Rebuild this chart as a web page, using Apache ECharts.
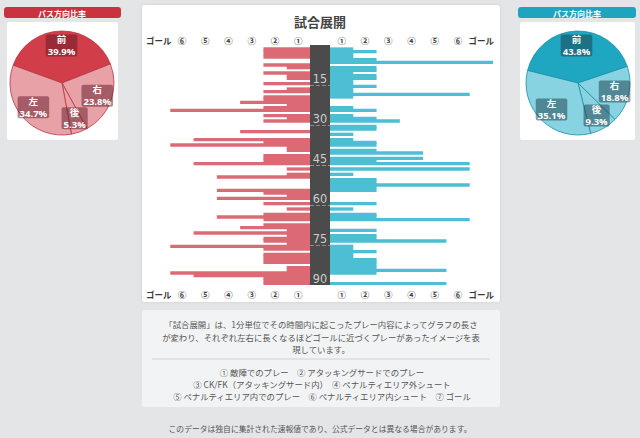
<!DOCTYPE html>
<html><head><meta charset="utf-8">
<script src="https://cdn.jsdelivr.net/npm/echarts@6/dist/echarts.min.js"></script>
<style>html,body{margin:0;padding:0;width:640px;height:438px;overflow:hidden;background:#e3e5e7}#c{width:640px;height:438px}</style>
</head><body><div id="c"></div><script>
// ---- data ----
const minutes = ['1','2','3','4','5','6','7','8','9','10','11','12','13','14','15','16','17','18','19','20','21','22','23','24','25','26','27','28','29','30','31','32','33','34','35','36','37','38','39','40','41','42','43','44','45','46','47','48','49','50','51','52','53','54','55','56','57','58','59','60','61','62','63','64','65','66','67','68','69','70','71','72','73','74','75','76','77','78','79','80','81','82','83','84','85','86','87','88','89','90'];
const homeLevels = [
  0,2,2,2,2,0,0,2,1,0,
  2,1,1,0,2,0,1,2,0,2,
  2,3,1,2,6,0,2,1,2,0,
  0,0,3,0,0,5,2,6,1,1,
  0,2,2,2,5,0,1,0,1,4,
  0,0,0,0,4,2,1,4,0,2,
  0,1,0,2,4,2,0,2,3,1,
  5,1,2,2,1,6,2,0,2,2,
  2,2,0,1,1,6,5,2,2,2];
const awayLevels = [
  0,1,2,1,1,2,7,0,2,2,
  1,2,2,1,1,2,1,1,6,1,
  0,0,0,1,2,0,1,2,3,0,
  2,2,0,1,0,1,2,2,0,2,
  4,0,4,2,6,0,6,0,1,0,
  2,2,6,2,2,0,0,0,0,2,
  0,1,0,2,2,6,0,0,0,2,
  0,2,2,5,0,1,1,2,1,1,
  2,2,2,2,5,2,0,0,0,5];
const levelLabels = ['①','②','③','④','⑤','⑥','ゴール'];
const minuteTicks = [15,30,45,60,75,90];
const passNames = ['前','右','後','左'];
const homePass = [39.9, 23.8, 5.3, 34.7];
const awayPass = [43.8, 18.8, 9.3, 35.1];
const descLines = [
  '「試合展開」は、1分単位でその時間内に起こったプレー内容によってグラフの長さ',
  'が変わり、それぞれ左右に長くなるほどゴールに近づくプレーがあったイメージを表',
  '現しています。'
];
const legendLines = [
  '① 敵陣でのプレー　② アタッキングサードでのプレー',
  '③ CK/FK（アタッキングサード内）　④ ペナルティエリア外シュート',
  '⑤ ペナルティエリア内でのプレー　⑥ ペナルティエリア内シュート　⑦ ゴール'
];
const footText = 'このデータは独自に集計された速報値であり、公式データとは異なる場合があります。';
const titleText = '試合展開';
const pieTitle = 'パス方向比率';

// ---- chart ----
const JP = '"Noto Sans CJK JP", "Noto Sans", sans-serif';
const red = '#dc6a74', blue = '#4dbfd5';
const chart = echarts.init(document.getElementById('c'), null, {renderer:'svg', width:640, height:438});

function catAxis(grid, pos, inv){
  return {gridIndex:grid, type:'category', data:levelLabels, inverse:inv, position:pos,
    axisLine:{show:false}, axisTick:{show:false}, splitLine:{show:false},
    axisLabel:{interval:0, color:'#3a3a3a', fontSize:8.5, fontFamily:JP, fontWeight:'bold', margin: pos==='top'?1:5}};
}
function pieSeries(center, values, startAngle, mainColor, lightColor, borderColor, labelBg){
  const data = passNames.map((n,i)=>({name:n, value:values[i], itemStyle:{color: i===0?mainColor:lightColor}}));
  return [
    {type:'pie', center:center, radius:52, startAngle:startAngle, clockwise:true, silent:true,
     label:{show:false}, labelLine:{show:false},
     itemStyle:{borderColor:borderColor, borderWidth:0.8}, data:data},
    {type:'pie', center:center, radius:[17,52], startAngle:startAngle, clockwise:true, silent:true,
     itemStyle:{color:'rgba(0,0,0,0)', borderWidth:0},
     label:{show:true, position:'inside', formatter:p=>p.name+'\n'+p.value.toFixed(1)+'%',
       color:'#fff', fontSize:9.5, lineHeight:12, fontWeight:'bold', fontFamily:'"Open Sans", "Noto Sans CJK JP", sans-serif',
       backgroundColor:labelBg, borderRadius:2, padding:[-1,2,-1,2]},
     labelLine:{show:false},
     data:passNames.map((n,i)=>({name:n, value:values[i]}))}
  ];
}

const option = {
  backgroundColor:'#e3e5e7',
  animation:false,
  graphic:{elements:[
    {type:'rect', z:-10, shape:{x:142,y:5,width:358,height:297,r:3}, style:{fill:'#fff', shadowBlur:3, shadowColor:'rgba(0,0,0,0.12)'}},
    {type:'rect', z:-10, shape:{x:142,y:310,width:358,height:97,r:3}, style:{fill:'rgba(255,255,255,0.55)'}},
    {type:'line', z:-9, shape:{x1:152,y1:359,x2:490,y2:359}, style:{stroke:'#d0d2d4', lineWidth:1}},
    {type:'rect', z:-10, shape:{x:4,y:7,width:117,height:11,r:3}, style:{fill:'#c9323f'}},
    {type:'rect', z:-10, shape:{x:7,y:22,width:111,height:118,r:2}, style:{fill:'#fff'}},
    {type:'rect', z:-10, shape:{x:518,y:7,width:118,height:11,r:3}, style:{fill:'#1fa4bf'}},
    {type:'rect', z:-10, shape:{x:520,y:22,width:115,height:118,r:2}, style:{fill:'#fff'}},
    {type:'text', style:{text:pieTitle, x:62, y:13, fill:'#fff', font:'bold 8px '+JP, textAlign:'center', textVerticalAlign:'middle'}},
    {type:'text', style:{text:pieTitle, x:577, y:13, fill:'#fff', font:'bold 8px '+JP, textAlign:'center', textVerticalAlign:'middle'}},
    {type:'text', style:{text:titleText, x:320, y:21, fill:'#444', font:'bold 13px '+JP, textAlign:'center', textVerticalAlign:'middle'}},
    ...descLines.map((t,i)=>({type:'text', style:{text:t, x:321, y:324+i*12.5, fill:'#555', font:'8.4px '+JP, textAlign:'center', textVerticalAlign:'middle'}})),
    ...legendLines.map((t,i)=>({type:'text', style:{text:t, x:322, y:372+i*12.2, fill:'#555', font:'8.4px '+JP, textAlign:'center', textVerticalAlign:'middle'}})),
    {type:'text', style:{text:footText, x:320, y:428, fill:'#555', font:'7.8px '+JP, textAlign:'center', textVerticalAlign:'middle'}}
  ]},
  grid:[
    {left:147, top:45, width:163, height:240},
    {left:310, top:45, width:20, height:240, show:true, backgroundColor:'#4b4b4b', borderWidth:0},
    {left:330, top:45, width:163, height:240}
  ],
  xAxis:[
    {gridIndex:0, type:'value', min:0, max:7, inverse:true, show:false},
    catAxis(0,'top',true),
    catAxis(0,'bottom',true),
    {gridIndex:1, type:'value', min:0, max:1, show:false},
    {gridIndex:2, type:'value', min:0, max:7, show:false},
    catAxis(2,'top',false),
    catAxis(2,'bottom',false)
  ],
  yAxis:[
    {gridIndex:0, type:'category', data:minutes, inverse:true, show:false},
    {gridIndex:1, type:'value', min:0, max:90, interval:15, inverse:true,
     axisLine:{show:false}, axisTick:{show:false},
     axisLabel:{show:true, margin:-10, align:'center', verticalAlign:'bottom', color:'#cdcdcd', fontSize:12.5,
       fontFamily:'"Liberation Sans Narrow", "DejaVu Sans Condensed", sans-serif',
       formatter:v=> minuteTicks.indexOf(v)>=0 ? String(v) : ''},
     splitLine:{show:true, lineStyle:{type:'dashed', width:1,
       color:['rgba(0,0,0,0)','#8a8a8a','#8a8a8a','#a486cf','#8a8a8a','#8a8a8a','rgba(0,0,0,0)']}}},
    {gridIndex:2, type:'category', data:minutes, inverse:true, show:false}
  ],
  series:[
    {type:'bar', xAxisIndex:0, yAxisIndex:0, data:homeLevels, barWidth:3.3, silent:true, itemStyle:{color:red}},
    {type:'bar', xAxisIndex:4, yAxisIndex:2, data:awayLevels, barWidth:3.3, silent:true, itemStyle:{color:blue}},
    {type:'scatter', xAxisIndex:3, yAxisIndex:1, data:[], silent:true},
    ...pieSeries([62,83], homePass, 160, '#d13d49', '#e9a1a8', '#b8333f', 'rgba(95,25,35,0.5)'),
    ...pieSeries([578,83], awayPass, 166, '#1fa7c1', '#88d3e1', '#1a8ea6', 'rgba(25,60,72,0.5)')
  ]
};
chart.setOption(option);
</script></body></html>
